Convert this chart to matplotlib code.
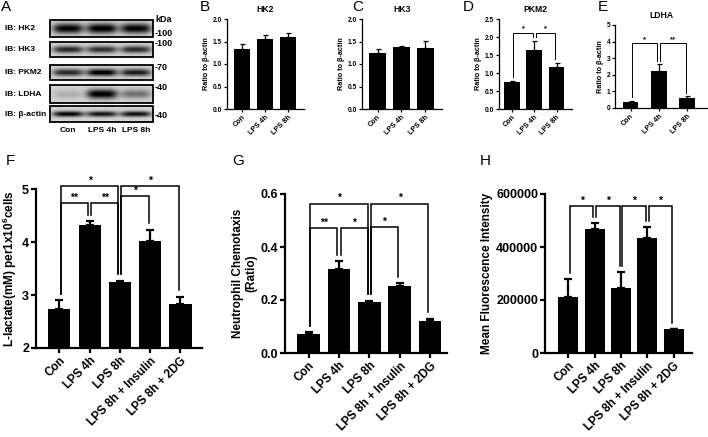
import numpy as np
import matplotlib.pyplot as plt
from matplotlib.patches import Rectangle

plt.rcParams['font.family'] = ['Liberation Sans', 'DejaVu Sans']
plt.rcParams['font.weight'] = 'bold'
plt.rcParams['axes.labelweight'] = 'bold'
plt.rcParams['axes.titleweight'] = 'bold'
plt.rcParams['mathtext.fontset'] = 'custom'
plt.rcParams['mathtext.rm'] = 'Liberation Sans:bold'
plt.rcParams['mathtext.bf'] = 'Liberation Sans:bold'

W, H = 708, 437

# ---- data ----
lanes = ['Con', 'LPS 4h', 'LPS 8h']
blot_rows = ['IB: HK2', 'IB: HK3', 'IB: PKM2', 'IB: LDHA', 'IB: β-actin']
blot_kda = ['-100', '-100', '-70', '-40', '-40']
band_intensity = [[0.85, 0.88, 0.85],
                  [0.70, 0.66, 0.68],
                  [0.70, 0.88, 0.75],
                  [0.15, 0.88, 0.40],
                  [0.85, 0.78, 0.80]]

hk2_mean = [1.33, 1.56, 1.59]
hk2_sem = [0.11, 0.08, 0.10]
hk3_mean = [1.24, 1.37, 1.36]
hk3_sem = [0.10, 0.04, 0.16]
pkm2_mean = [0.74, 1.65, 1.16]
pkm2_sem = [0.05, 0.25, 0.13]
ldha_mean = [0.34, 2.24, 0.60]
ldha_sem = [0.10, 0.40, 0.12]

groups = ['Con', 'LPS 4h', 'LPS 8h', 'LPS 8h + Insulin', 'LPS 8h + 2DG']
lactate_mean = [2.74, 4.33, 3.24, 4.02, 2.83]
lactate_sem = [0.16, 0.06, 0.03, 0.21, 0.14]
chemo_mean = [0.072, 0.317, 0.194, 0.254, 0.119]
chemo_sem = [0.006, 0.029, 0.003, 0.010, 0.010]
mfi_mean = [210000, 469000, 245000, 434000, 91000]
mfi_sem = [69000, 21000, 59000, 40000, 0]

# significance brackets: (bar i, bar j, height, label)
pkm2_sig = [(0, 1, 2.12, '*'), (1, 2, 2.12, '*')]
ldha_sig = [(0, 1, 3.9, '*'), (1, 2, 3.9, '**')]
lactate_sig = [(0, 2, 5.06, '*'), (2, 4, 5.06, '*'), (0, 1, 4.74, '**'),
               (1, 2, 4.74, '**'), (2, 3, 4.86, '*')]
chemo_sig = [(0, 2, 0.564, '*'), (2, 4, 0.564, '*'), (0, 1, 0.472, '**'),
             (1, 2, 0.472, '*'), (2, 3, 0.476, '*')]
mfi_sig = [(0, 1, 553000, '*'), (1, 2, 553000, '*'), (2, 3, 553000, '*'),
           (3, 4, 553000, '*')]

fig = plt.figure(figsize=(W / 100, H / 100), dpi=100)


def box(x0, x1, y0, y1):
    return [x0 / W, 1 - y1 / H, (x1 - x0) / W, (y1 - y0) / H]


# ---- panel A: western blot ----
ax0 = fig.add_axes([0, 0, 1, 1])
ax0.axis('off')

blot_x = (50, 153)
row_y = [(20, 37), (42, 57), (65, 80), (85, 103), (106, 122)]
band_sigma = [3.6, 2.6, 2.6, 3.4, 2.0]
lane_x = [68, 102, 136]
xs = np.linspace(blot_x[0], blot_x[1], 206)
for r, (y0, y1) in enumerate(row_y):
    ys = np.linspace(y0, y1, 60)
    yc = (y0 + y1) / 2
    img = np.full((len(ys), len(xs)), 0.84)
    for k, c in enumerate(lane_x):
        px = np.exp(-((xs - c) / 15.5) ** 4)
        py = np.exp(-0.5 * ((ys - yc) / band_sigma[r]) ** 2)
        img -= band_intensity[r][k] * np.outer(py, px)
    ax0.imshow(np.clip(img, 0, 1), extent=(blot_x[0], blot_x[1], y1, y0),
               cmap='gray', vmin=0, vmax=1, aspect='auto', interpolation='bilinear')
    ax0.add_patch(Rectangle((blot_x[0], y0), blot_x[1] - blot_x[0], y1 - y0,
                            fill=False, edgecolor='black', lw=1.3))
    ax0.text(5, yc, blot_rows[r], fontsize=6, va='center', ha='left')

kda_y = [33, 44, 67, 88, 116]
ax0.text(155, 20, 'kDa', fontsize=6.5, va='center', ha='left')
for lab, yy in zip(blot_kda, kda_y):
    ax0.text(155, yy, lab, fontsize=6.5, va='center', ha='left')
for lab, xx in zip(lanes, lane_x):
    ax0.text(xx, 131, lab, fontsize=6, va='center', ha='center')
ax0.set_xlim(0, W)
ax0.set_ylim(H, 0)

for letter, (lx, ly) in zip('ABCDEFGH', [(6, 7), (205, 7), (358, 7), (468, 7),
                                          (603, 7), (10, 161), (238, 161), (485, 161)]):
    fig.text(lx / W, 1 - ly / H, letter, fontsize=11, fontweight='normal',
             ha='center', va='center')


def bar_panel(rect, means, sems, labels, xlim, ylim, yticks, fmt, width,
              lw, fs, lab_fs, ylabel=None, title=None, sig=(), star_fs=8,
              sig_lw=1.0, capsize=2.5, tick_len=3):
    ax = fig.add_axes(box(*rect))
    x = np.arange(len(means))
    ax.bar(x, means, width=width, color='black', zorder=2)
    ax.errorbar(x, means, yerr=[np.zeros(len(sems)), sems], fmt='none',
                ecolor='black', elinewidth=lw, capsize=capsize, capthick=lw, zorder=1)
    ax.set_xlim(*xlim)
    ax.set_ylim(*ylim)
    ax.set_yticks(yticks)
    ax.set_yticklabels([fmt % t for t in yticks], fontsize=fs)
    ax.set_xticks(x)
    ax.set_xticklabels(labels, fontsize=lab_fs, rotation=45, ha='right',
                       rotation_mode='anchor')
    for s in ['top', 'right']:
        ax.spines[s].set_visible(False)
    for s in ['left', 'bottom']:
        ax.spines[s].set_linewidth(lw)
    ax.tick_params(width=lw, length=tick_len, pad=1.5)
    ax.patch.set_alpha(0)
    if ylabel:
        ax.set_ylabel(ylabel, fontsize=lab_fs, labelpad=2)
    if title:
        ax.set_title(title, fontsize=lab_fs + 1, pad=5)
    gap = 0.04 * (ylim[1] - ylim[0])
    tops = np.array(means) + np.array(sems)
    for i, j, h, lab in sig:
        xi, xj = i + 0.05, j - 0.05
        ax.plot([xi, xi, xj, xj], [tops[i] + gap, h, h, tops[j] + gap],
                color='black', lw=sig_lw, clip_on=False, solid_joinstyle='miter')
        ax.annotate(lab, ((xi + xj) / 2, h), xytext=(0, 0.3), textcoords='offset points',
                    ha='center', va='bottom', fontsize=star_fs, annotation_clip=False)
    return ax


small = dict(lw=0.9, fs=4.8, lab_fs=5.2, star_fs=5.5, sig_lw=0.7, capsize=1.8, tick_len=2)
bar_panel((227, 304, 19, 109), hk2_mean, hk2_sem, lanes, (-0.65, 2.7), (0, 2.0),
          [0, 0.5, 1.0, 1.5, 2.0], '%.1f', 0.72, ylabel='Ratio to β-actin',
          title='HK2', **small)
bar_panel((362, 442, 19, 109), hk3_mean, hk3_sem, lanes, (-0.65, 2.7), (0, 2.0),
          [0, 0.5, 1.0, 1.5, 2.0], '%.1f', 0.72, ylabel='Ratio to β-actin',
          title='HK3', **small)
bar_panel((499, 572, 19, 109), pkm2_mean, pkm2_sem, lanes, (-0.6, 2.7), (0, 2.5),
          [0, 0.5, 1.0, 1.5, 2.0, 2.5], '%.1f', 0.72, ylabel='Ratio to β-actin',
          title='PKM2', sig=pkm2_sig, **small)
bar_panel((615, 707, 25, 108), ldha_mean, ldha_sem, lanes, (-0.55, 2.7), (0, 5),
          [0, 1, 2, 3, 4, 5], '%d', 0.55, ylabel='Ratio to β-actin',
          title='LDHA', sig=ldha_sig, **small)

big = dict(lw=1.6, fs=9, lab_fs=8.5, star_fs=7.5, sig_lw=1.1, capsize=2.8, tick_len=3.5)
bar_panel((36, 202, 189, 348), lactate_mean, lactate_sem, groups, (-0.77, 4.71), (2, 5),
          [2, 3, 4, 5], '%d', 0.73,
          ylabel=r'L-lactate(mM) per1x10$^{\mathbf{6}}$cells', sig=lactate_sig, **big)
bar_panel((285, 447, 194, 353), chemo_mean, chemo_sem, groups, (-0.78, 4.56), (0, 0.6),
          [0, 0.2, 0.4, 0.6], '%.1f', 0.75,
          ylabel='Neutrophil Chemotaxis\n(Ratio)', sig=chemo_sig, **big)
bar_panel((545, 692, 194, 353), mfi_mean, mfi_sem, groups, (-0.89, 4.7), (0, 600000),
          [0, 200000, 400000, 600000], '%d', 0.76,
          ylabel='Mean Fluorescence Intensity', sig=mfi_sig, **big)

fig.savefig('out.png', dpi=100)
